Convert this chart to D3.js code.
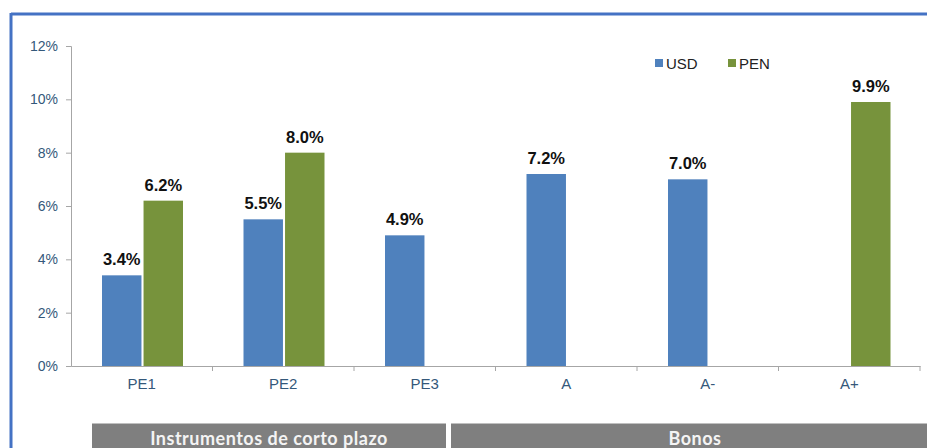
<!DOCTYPE html>
<html>
<head>
<meta charset="utf-8">
<script src="https://cdn.jsdelivr.net/npm/d3@7"></script>
<style>
  body { margin: 0; background: #fff; }
  svg { display: block; }
</style>
</head>
<body>
<svg id="chart" width="927" height="448"></svg>
<script>
// Datos del gráfico
const categorias = ["PE1", "PE2", "PE3", "A", "A-", "A+"];
const series = ["USD", "PEN"];
const valoresUSD = [3.4, 5.5, 4.9, 7.2, 7.0, null];
const valoresPEN = [6.2, 8.0, null, null, null, 9.9];
const ticksY = [0, 2, 4, 6, 8, 10, 12];
const grupos = ["Instrumentos de corto plazo", "Bonos"];

const colores = { USD: "#4f81bd", PEN: "#77933c" };
const fuente = "Arial, 'Liberation Sans', sans-serif";

const svg = d3.select("#chart");
const W = 927, H = 448;

// Marco azul (arriba e izquierda)
svg.append("line").attr("x1", 11).attr("x2", W).attr("y1", 14).attr("y2", 14)
    .attr("stroke", "#4472c4").attr("stroke-width", 3);
svg.append("line").attr("x1", 11).attr("x2", 11).attr("y1", 13).attr("y2", H)
    .attr("stroke", "#4472c4").attr("stroke-width", 3);

const margin = { left: 71, right: 7, top: 46, bottom: 82 };
const x = d3.scaleBand().domain(categorias).range([margin.left, W - margin.right]);
const xSub = d3.scaleBand().domain(series).range([31, 112]).paddingInner(0.05);
const y = d3.scaleLinear().domain([0, 12]).range([H - margin.bottom, margin.top]);

// Eje Y
const ejeY = svg.append("g").attr("transform", `translate(${margin.left},0)`)
    .call(d3.axisLeft(y).tickValues(ticksY).tickSize(5).tickPadding(8).tickFormat(d => d + "%"));
ejeY.select(".domain").attr("stroke", "#a6a6a6");
ejeY.selectAll(".tick line").attr("stroke", "#a6a6a6");
ejeY.selectAll("text").attr("fill", "#34587a").style("font-family", fuente).style("font-size", "14px");

// Eje X
const ejeX = svg.append("g").attr("transform", `translate(0,${y(0)})`)
    .call(d3.axisBottom(x).tickSize(0).tickPadding(12));
ejeX.select(".domain").attr("stroke", "#a6a6a6");
ejeX.selectAll("text").attr("fill", "#34587a").style("font-family", fuente).style("font-size", "15px");

// Marcas entre categorías
const bordes = categorias.map(c => x(c) + x.bandwidth());
svg.append("g").selectAll("line").data(bordes).enter().append("line")
    .attr("x1", d => d).attr("x2", d => d)
    .attr("y1", y(0)).attr("y2", y(0) + 5)
    .attr("stroke", "#a6a6a6");

// Barras
const datos = [];
categorias.forEach((c, i) => {
    if (valoresUSD[i] !== null) datos.push({ cat: c, serie: "USD", valor: valoresUSD[i] });
    if (valoresPEN[i] !== null) datos.push({ cat: c, serie: "PEN", valor: valoresPEN[i] });
});

svg.append("g").selectAll("rect").data(datos).enter().append("rect")
    .attr("x", d => x(d.cat) + xSub(d.serie))
    .attr("width", xSub.bandwidth())
    .attr("y", d => y(d.valor))
    .attr("height", d => y(0) - y(d.valor))
    .attr("fill", d => colores[d.serie]);

// Etiquetas de valor
svg.append("g").selectAll("text").data(datos).enter().append("text")
    .attr("x", d => x(d.cat) + xSub(d.serie) + xSub.bandwidth() / 2)
    .attr("y", d => y(d.valor) - 10)
    .attr("text-anchor", "middle")
    .style("font-family", fuente)
    .style("font-size", "16.5px")
    .style("font-weight", "bold")
    .attr("fill", "#111")
    .text(d => d.valor.toFixed(1) + "%");

// Leyenda
const leyenda = svg.append("g").attr("transform", "translate(655,63)");
const posLeyenda = { USD: 0, PEN: 73 };
series.forEach(s => {
    const g = leyenda.append("g").attr("transform", `translate(${posLeyenda[s]},0)`);
    g.append("rect").attr("x", 0).attr("y", -4).attr("width", 8).attr("height", 8).attr("fill", colores[s]);
    g.append("text").attr("x", 11).attr("y", 5.5)
        .style("font-family", fuente).style("font-size", "15px")
        .attr("fill", "#222").text(s);
});

// Encabezados de grupo
const cajas = [
    { nombre: grupos[0], x0: 92, x1: 446, dx: 0 },
    { nombre: grupos[1], x0: 451, x1: W, dx: 6 }
];
const gGrupos = svg.append("g");
cajas.forEach(c => {
    gGrupos.append("rect").attr("x", c.x0).attr("y", 423).attr("width", c.x1 - c.x0).attr("height", H - 423)
        .attr("fill", "#7f7f7f");
    gGrupos.append("line").attr("x1", c.x0).attr("x2", c.x1).attr("y1", 423.5).attr("y2", 423.5)
        .attr("stroke", "#bfbfbf");
    gGrupos.append("text").attr("x", (c.x0 + c.x1) / 2 + c.dx).attr("y", 445)
        .attr("text-anchor", "middle")
        .style("font-family", "Lato, 'Open Sans', sans-serif").style("font-size", "18px")
        .style("letter-spacing", "0.5px")
        .style("font-weight", "bold").attr("fill", "#f4f4f4").text(c.nombre);
});
</script>
</body>
</html>
